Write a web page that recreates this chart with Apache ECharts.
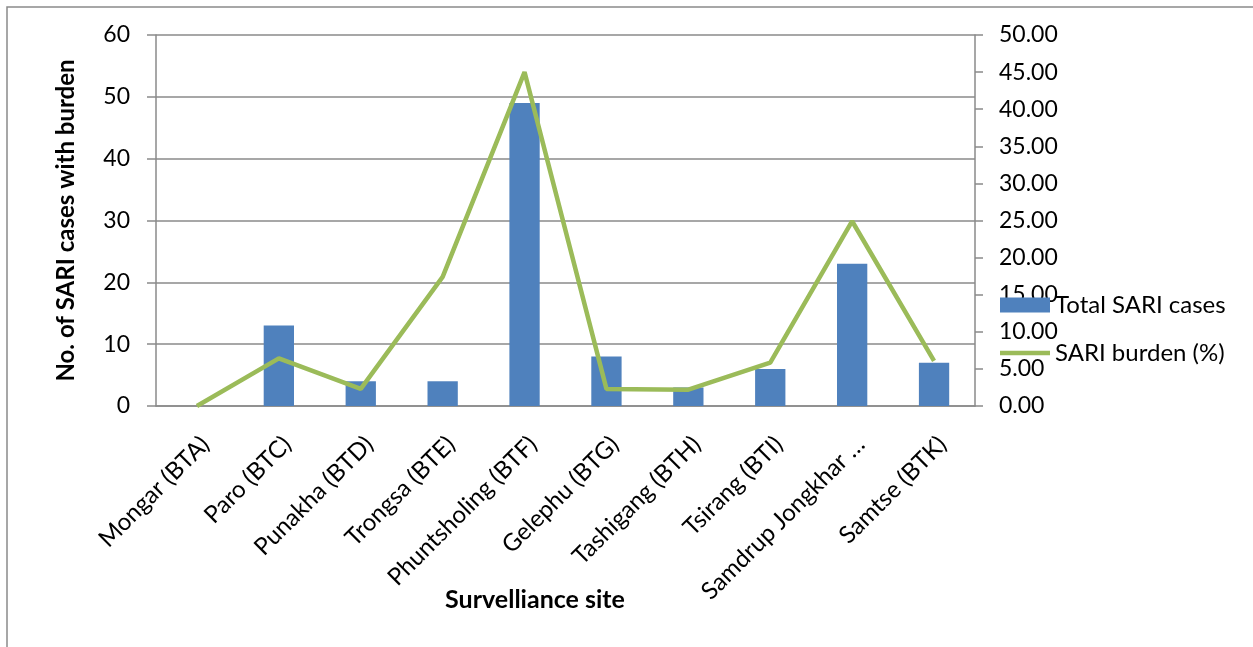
<!DOCTYPE html>
<html>
<head>
<meta charset="utf-8">
<script src="https://cdn.jsdelivr.net/npm/echarts@6/dist/echarts.min.js"></script>
<style>
html,body{margin:0;padding:0;background:#fff;}
#chart{width:1253px;height:647px;}
</style>
</head>
<body>
<div id="chart"></div>
<script>
var categories = ['Mongar (BTA)', 'Paro (BTC)', 'Punakha (BTD)', 'Trongsa (BTE)', 'Phuntsholing (BTF)', 'Gelephu (BTG)', 'Tashigang (BTH)', 'Tsirang (BTI)', 'Samdrup Jongkhar …', 'Samtse (BTK)'];
var totalCases = [0, 13, 4, 4, 49, 8, 3, 6, 23, 7];
var burdenPct = [0, 6.42, 2.3, 17.4, 45.0, 2.3, 2.2, 5.86, 24.9, 6.08];
var leftTicks = [0, 60, 10];
var rightTicks = [0, 50, 5];

var FONT = 'Lato';
var GRAY = '#8a8a8a';
var chart = echarts.init(document.getElementById('chart'), null, {renderer: 'canvas'});
chart.setOption({
  animation: false,
  backgroundColor: '#fff',
  textStyle: {fontFamily: FONT, color: '#000'},
  graphic: [{
    type: 'rect', silent: true,
    shape: {x: 7, y: 7, width: 1400, height: 800},
    style: {fill: 'none', stroke: GRAY, lineWidth: 1.5}
  }],
  title: {
    text: 'Survelliance site',
    left: 530, top: 582, textAlign: 'center',
    textStyle: {fontFamily: FONT, fontSize: 25, fontWeight: 'bold', color: '#000'}
  },
  legend: {
    orient: 'vertical',
    left: 995, top: 288,
    itemWidth: 50, itemHeight: 15, itemGap: 24,
    textStyle: {fontFamily: FONT, fontSize: 24, color: '#000', lineHeight: 24},
    data: [
      {name: 'Total SARI cases', icon: 'rect'},
      {name: 'SARI burden (%)', icon: 'path://M0,0 L50,0 L50,4.5 L0,4.5 Z'}
    ]
  },
  grid: {left: 156, right: 278, top: 35, bottom: 241, containLabel: false},
  xAxis: {
    type: 'category',
    data: categories,
    axisLine: {lineStyle: {color: GRAY, width: 1.5}},
    axisTick: {show: false},
    axisLabel: {
      interval: 0, rotate: 45, margin: 26, verticalAlign: 'top', align: 'right',
      fontFamily: FONT, fontSize: 24, color: '#000'
    }
  },
  yAxis: [{
    type: 'value', min: leftTicks[0], max: leftTicks[1], interval: leftTicks[2],
    position: 'left',
    name: 'No. of SARI cases with burden', nameLocation: 'middle', nameGap: 78,
    nameTextStyle: {fontFamily: FONT, fontSize: 24, fontWeight: 'bold', color: '#000'},
    axisLine: {show: true, lineStyle: {color: GRAY, width: 1.5}},
    axisTick: {show: true, length: 9, lineStyle: {color: GRAY, width: 1.5}},
    axisLabel: {margin: 26, fontFamily: FONT, fontSize: 23, color: '#000'},
    splitLine: {show: true, lineStyle: {color: GRAY, width: 1.5}}
  }, {
    type: 'value', min: rightTicks[0], max: rightTicks[1], interval: rightTicks[2],
    position: 'right',
    axisLine: {show: true, lineStyle: {color: GRAY, width: 1.5}},
    axisTick: {show: true, length: 8, lineStyle: {color: GRAY, width: 1.5}},
    axisLabel: {margin: 24, fontFamily: FONT, fontSize: 23, color: '#000',
      formatter: function (v) { return v.toFixed(2); }},
    splitLine: {show: false}
  }],
  series: [{
    name: 'Total SARI cases',
    type: 'bar',
    yAxisIndex: 0,
    data: totalCases,
    barWidth: '37%',
    itemStyle: {color: '#4F81BD'}
  }, {
    name: 'SARI burden (%)',
    type: 'line',
    yAxisIndex: 1,
    data: burdenPct,
    symbol: 'none',
    lineStyle: {color: '#9BBB59', width: 4.5},
    itemStyle: {color: '#9BBB59'}
  }]
});
</script>
</body>
</html>
